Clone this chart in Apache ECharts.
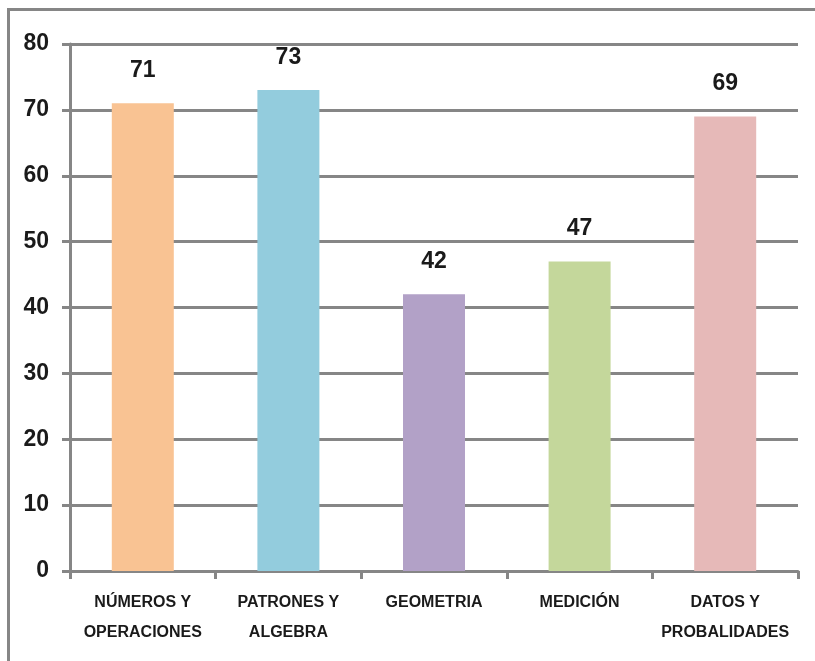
<!DOCTYPE html>
<html>
<head>
<meta charset="utf-8">
<script src="https://cdn.jsdelivr.net/npm/echarts@6/dist/echarts.min.js"></script>
<style>
  html, body { margin: 0; padding: 0; background: #fff; }
  #chart { width: 815px; height: 661px; }
</style>
</head>
<body>
<div id="chart"></div>
<script>
// Areas of the assessment and their scores
const categories = [
  'NÚMEROS Y\nOPERACIONES',
  'PATRONES Y\nALGEBRA',
  'GEOMETRIA',
  'MEDICIÓN',
  'DATOS Y\nPROBALIDADES'
];
const scores = [71, 73, 42, 47, 69];
const barColors = ['#F9C393', '#93CCDD', '#B2A1C7', '#C4D79B', '#E6B9B8'];
const yTicks = { min: 0, max: 80, interval: 10 };

const gridGray = '#868686';
const fontFamily = '"Liberation Sans Narrow", "Liberation Sans", Arial, sans-serif';

const chart = echarts.init(document.getElementById('chart'), null, { renderer: 'canvas' });

chart.setOption({
  animation: false,
  backgroundColor: '#ffffff',
  graphic: [{
    type: 'rect',
    shape: { x: 8.5, y: 9.5, width: 1000, height: 1000 },
    style: { fill: 'none', stroke: gridGray, lineWidth: 3 },
    silent: true
  }],
  grid: { left: 70, right: 17, top: 44, bottom: 90, containLabel: false },
  xAxis: {
    type: 'category',
    data: categories,
    axisLine: { show: true, lineStyle: { color: gridGray, width: 3 } },
    axisTick: { show: true, length: 8, lineStyle: { color: gridGray, width: 3 } },
    axisLabel: {
      interval: 0,
      margin: 17,
      color: '#1a1a1a',
      fontFamily: fontFamily,
      fontWeight: 'bold',
      fontSize: 16,
      lineHeight: 30
    }
  },
  yAxis: {
    type: 'value',
    min: yTicks.min,
    max: yTicks.max,
    interval: yTicks.interval,
    axisLine: { show: true, lineStyle: { color: gridGray, width: 3 } },
    axisTick: { show: true, length: 8, lineStyle: { color: gridGray, width: 3 } },
    splitLine: { show: true, lineStyle: { color: gridGray, width: 3 } },
    axisLabel: {
      margin: 21,
      color: '#1a1a1a',
      fontFamily: fontFamily,
      fontWeight: 'bold',
      fontSize: 23
    }
  },
  series: [{
    type: 'bar',
    data: scores.map((v, i) => ({ value: v, itemStyle: { color: barColors[i] } })),
    barWidth: 62,
    label: {
      show: true,
      position: 'top',
      distance: 21,
      color: '#1a1a1a',
      fontFamily: fontFamily,
      fontWeight: 'bold',
      fontSize: 23
    }
  }]
});
</script>
</body>
</html>
